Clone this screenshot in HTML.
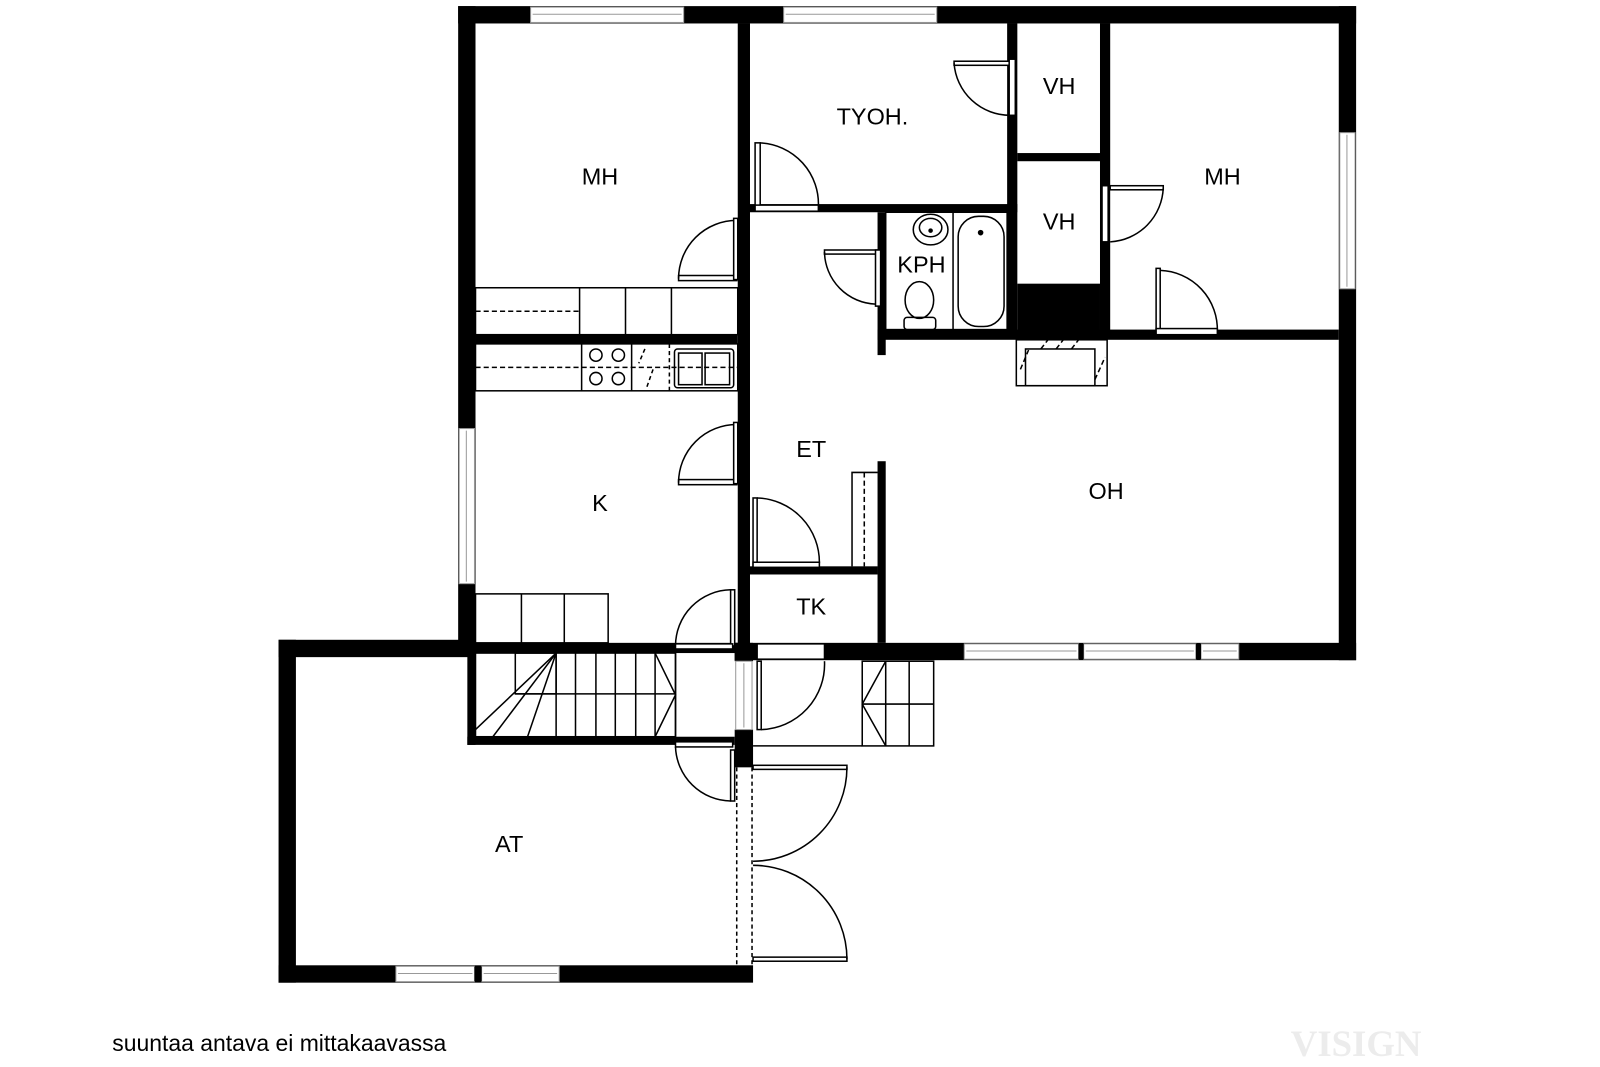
<!DOCTYPE html>
<html><head><meta charset="utf-8"><style>
html,body{margin:0;padding:0;background:#fff;width:1600px;height:1067px;overflow:hidden}
svg{display:block}
text{font-family:"Liberation Sans",sans-serif;font-size:23px;fill:#000}
</style></head><body>
<svg width="1600" height="1067" viewBox="0 0 1600 1067" xmlns="http://www.w3.org/2000/svg">
<g transform="scale(1.0204)">
<g fill="#000">
<rect x="449" y="6" width="880" height="17"/>
<rect x="449" y="6" width="17" height="624"/>
<rect x="1312" y="6" width="17" height="641"/>
<rect x="720" y="630" width="609" height="17"/>
<rect x="723" y="23" width="12" height="617"/>
<rect x="735" y="200" width="262" height="8"/>
<rect x="987" y="23" width="10" height="302"/>
<rect x="1078" y="23" width="10" height="302"/>
<rect x="997" y="150" width="81" height="8"/>
<rect x="997" y="278" width="81" height="47"/>
<rect x="860" y="208" width="8" height="140"/>
<rect x="860" y="323" width="452" height="10"/>
<rect x="466" y="328" width="257" height="9"/>
<rect x="860" y="452" width="8" height="178"/>
<rect x="735" y="555" width="125" height="8"/>
<rect x="458" y="630" width="265" height="10"/>
<rect x="458" y="630" width="8" height="100"/>
<rect x="458" y="722" width="262" height="8"/>
<rect x="720" y="630" width="18" height="18"/>
<rect x="720" y="715" width="18" height="37"/>
<rect x="273" y="627" width="193" height="17"/>
<rect x="273" y="627" width="17" height="336"/>
<rect x="273" y="946" width="465" height="17"/>
</g>
<g fill="#fff" stroke="#999" stroke-width="1">
<rect x="520" y="7" width="150" height="15"/>
<rect x="768" y="7" width="150" height="15"/>
<rect x="1313" y="130" width="15" height="153"/>
<rect x="450" y="420" width="15" height="152"/>
<rect x="945" y="631" width="112" height="15"/>
<rect x="1062" y="631" width="110" height="15"/>
<rect x="1177" y="631" width="37" height="15"/>
<rect x="388" y="947" width="77" height="15"/>
<rect x="472" y="947" width="76" height="15"/>
<rect x="721" y="648" width="16" height="67"/>
</g>
<g stroke="#999" stroke-width="1" fill="none">
<line x1="522" y1="14" x2="668" y2="14"/><line x1="770" y1="14" x2="916" y2="14"/>
<line x1="1320" y1="132" x2="1320" y2="281"/><line x1="457" y1="422" x2="457" y2="570"/>
<line x1="947" y1="638" x2="1055" y2="638"/><line x1="1064" y1="638" x2="1170" y2="638"/><line x1="1179" y1="638" x2="1212" y2="638"/>
<line x1="390" y1="954" x2="463" y2="954"/><line x1="474" y1="954" x2="546" y2="954"/>
<line x1="729" y1="650" x2="729" y2="713"/>
</g>
<g fill="#000"><rect x="1057" y="631" width="5" height="15"/><rect x="1172" y="631" width="5" height="15"/><rect x="465" y="947" width="7" height="15"/></g>
<g stroke="#000" stroke-width="1.5" fill="none">
<rect x="466" y="282" width="257" height="46"/>
<line x1="568" y1="282" x2="568" y2="328"/><line x1="613" y1="282" x2="613" y2="328"/><line x1="658" y1="282" x2="658" y2="328"/>
<line x1="466" y1="305" x2="568" y2="305" stroke-dasharray="5,3"/>
<rect x="466" y="337" width="257" height="46"/>
<line x1="570" y1="337" x2="570" y2="383"/><line x1="619" y1="337" x2="619" y2="383"/>
<line x1="656" y1="337" x2="656" y2="383" stroke-dasharray="4,3"/>
<line x1="466" y1="360" x2="723" y2="360" stroke-dasharray="5,3"/>
<circle cx="584" cy="348" r="6"/><circle cx="606" cy="348" r="6"/><circle cx="584" cy="371" r="6"/><circle cx="606" cy="371" r="6"/>
<line x1="632" y1="342" x2="626" y2="356" stroke-dasharray="4,3"/><line x1="640" y1="362" x2="634" y2="379" stroke-dasharray="4,3"/>
<rect x="661" y="342" width="58" height="38" rx="3"/>
<rect x="665" y="346" width="23" height="31"/><rect x="691" y="346" width="24" height="31"/>
<rect x="466" y="582" width="130" height="48"/>
<line x1="511" y1="582" x2="511" y2="630"/><line x1="553" y1="582" x2="553" y2="630"/>
<rect x="868" y="208" width="119" height="115"/>
<line x1="934" y1="208" x2="934" y2="323"/>
<rect x="939" y="212" width="45" height="108" rx="20"/>
<circle cx="961" cy="228" r="2" fill="#000"/>
<ellipse cx="912" cy="225" rx="17" ry="15"/><ellipse cx="912" cy="223" rx="11" ry="9"/>
<circle cx="912" cy="226" r="1.5" fill="#000"/>
<ellipse cx="901" cy="294" rx="14" ry="18"/>
<rect x="886" y="311" width="31" height="12" rx="3"/>
<rect x="996" y="333" width="89" height="45"/>
<rect x="1005" y="342" width="68" height="36"/>
<g stroke-dasharray="5,3"><line x1="1000" y1="362" x2="1008" y2="343"/><line x1="1020" y1="342" x2="1027" y2="333"/><line x1="1035" y1="342" x2="1042" y2="333"/><line x1="1050" y1="342" x2="1057" y2="333"/><line x1="1073" y1="372" x2="1083" y2="350"/></g>
<polyline points="860,463 835,463 835,555"/>
<line x1="847" y1="463" x2="847" y2="555" stroke-dasharray="5,3"/>
<rect x="466" y="640" width="196" height="82"/>
<rect x="505" y="640" width="40" height="40"/>
<line x1="505" y1="680" x2="662" y2="680"/>
<line x1="545" y1="640" x2="545" y2="722"/><line x1="564" y1="640" x2="564" y2="722"/><line x1="584" y1="640" x2="584" y2="722"/><line x1="603" y1="640" x2="603" y2="722"/><line x1="623" y1="640" x2="623" y2="722"/><line x1="642" y1="640" x2="642" y2="722"/>
<line x1="545" y1="640" x2="466" y2="715"/><line x1="545" y1="640" x2="483" y2="722"/><line x1="545" y1="640" x2="517" y2="722"/>
<polyline points="642,640 662,681 642,722"/>
<line x1="662" y1="640" x2="662" y2="722"/>
<rect x="845" y="648" width="70" height="83"/>
<line x1="868" y1="648" x2="868" y2="731"/><line x1="891" y1="648" x2="891" y2="731"/>
<line x1="845" y1="690" x2="915" y2="690"/>
<polyline points="868,648 845,690 868,731"/>
<line x1="738" y1="731" x2="845" y2="731"/>
<line x1="722" y1="752" x2="722" y2="946" stroke-dasharray="4,3"/>
<line x1="737" y1="752" x2="737" y2="946" stroke-dasharray="4,3"/>
</g>
<g stroke="#000" stroke-width="1.5" fill="#fff">
<rect x="665" y="270" width="57" height="5"/><path d="M665 273 A57 57 0 0 1 722 216" fill="none"/><rect x="719" y="214" width="4" height="60"/>
<rect x="740" y="140" width="5" height="63"/><path d="M745 140 A60 60 0 0 1 802 203" fill="none"/><rect x="740" y="201" width="62" height="6"/>
<rect x="935" y="60" width="55" height="4"/><path d="M935 62 A55 55 0 0 0 990 113" fill="none"/><rect x="989" y="58" width="6" height="55"/>
<rect x="1088" y="182" width="52" height="4"/><path d="M1140 184 A55 55 0 0 1 1088 237" fill="none"/><rect x="1080" y="182" width="6" height="55"/>
<rect x="1133" y="263" width="4" height="62"/><path d="M1137 265 A58 58 0 0 1 1193 325" fill="none"/><rect x="1133" y="322" width="60" height="6"/>
<rect x="808" y="245" width="52" height="4"/><path d="M808 247 A52 52 0 0 0 858 298" fill="none"/><rect x="858" y="245" width="5" height="55"/>
<rect x="665" y="470" width="57" height="5"/><path d="M665 473 A57 57 0 0 1 722 416" fill="none"/><rect x="719" y="414" width="4" height="60"/>
<rect x="738" y="488" width="4" height="67"/><path d="M742 488 A63 63 0 0 1 803 552" fill="none"/><rect x="738" y="551" width="65" height="5"/>
<rect x="716" y="578" width="4" height="55"/><path d="M716 578 A55 55 0 0 0 662 633" fill="none"/><rect x="662" y="631" width="56" height="5"/>
<rect x="742" y="648" width="4" height="67"/><path d="M746 715 A64 64 0 0 0 808 648" fill="none"/><rect x="742" y="631" width="66" height="15"/>
<rect x="716" y="735" width="4" height="50"/><path d="M716 785 A55 55 0 0 1 662 732" fill="none"/><rect x="662" y="727" width="56" height="5"/>
<rect x="738" y="750" width="92" height="4"/><path d="M830 752 A92 92 0 0 1 738 844" fill="none"/>
<rect x="738" y="938" width="92" height="4"/><path d="M830 940 A92 92 0 0 0 738 848" fill="none"/>
</g>
<text x="588" y="181" text-anchor="middle">MH</text>
<text x="855" y="122" text-anchor="middle">TYOH.</text>
<text x="1038" y="92" text-anchor="middle">VH</text>
<text x="1038" y="225" text-anchor="middle">VH</text>
<text x="1198" y="181" text-anchor="middle">MH</text>
<text x="903" y="267" text-anchor="middle">KPH</text>
<text x="795" y="448" text-anchor="middle">ET</text>
<text x="1084" y="489" text-anchor="middle">OH</text>
<text x="588" y="501" text-anchor="middle">K</text>
<text x="795" y="602" text-anchor="middle">TK</text>
<text x="499" y="835" text-anchor="middle">AT</text>
<text x="110" y="1030" style="font-size:22.5px">suuntaa antava ei mittakaavassa</text>
<text x="1265" y="1035" style="font-family:'Liberation Serif',serif;font-size:36px;font-weight:bold;fill:#ececec">VISIGN</text>
</g>
</svg>
</body></html>
